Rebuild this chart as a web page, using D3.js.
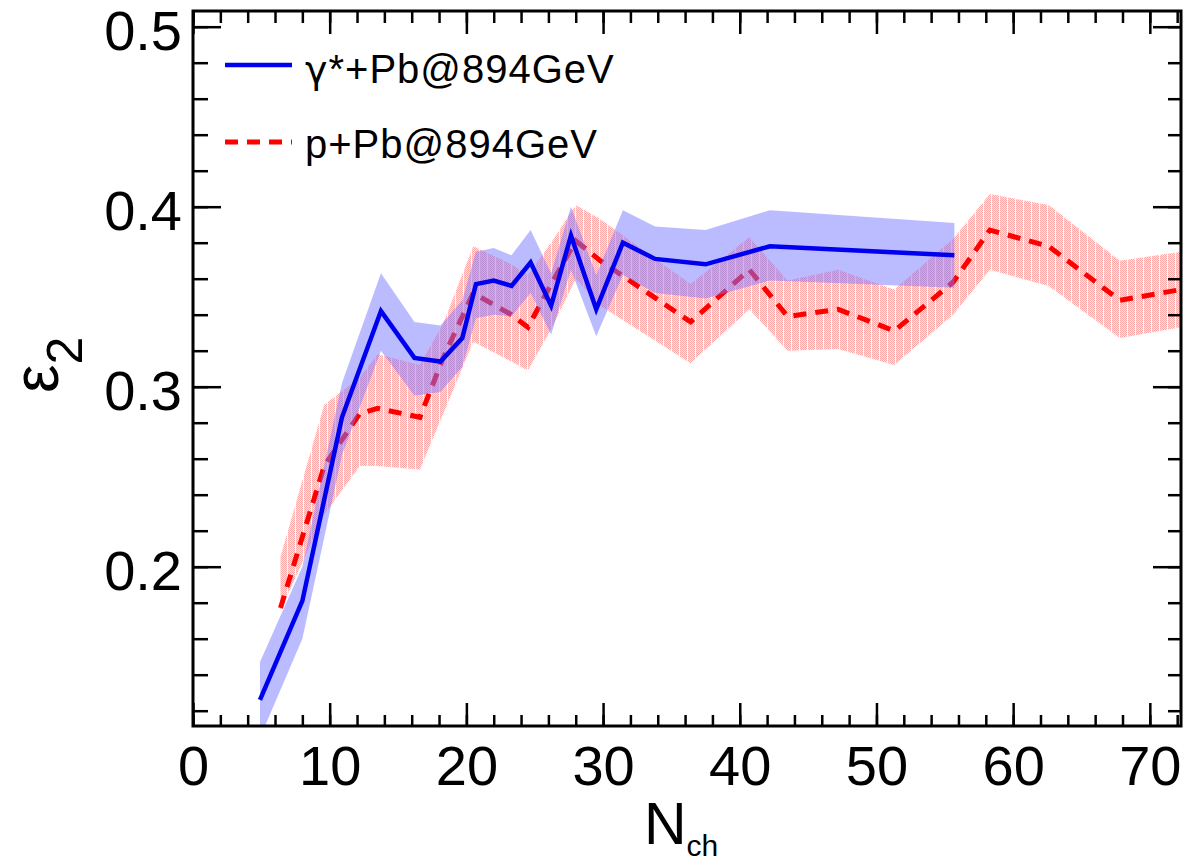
<!DOCTYPE html>
<html>
<head>
<meta charset="utf-8">
<script src="https://cdn.jsdelivr.net/npm/d3@7"></script>
<style>
  html, body { margin: 0; padding: 0; background: #fff; }
  svg { display: block; font-family: "Liberation Sans", Arial, Helvetica, sans-serif; }
</style>
</head>
<body>
<svg id="chart" width="1185" height="865"></svg>
<script>
// ---------------- data ----------------
const blueX  = [4.9, 8.0, 10.9, 13.75, 16.2, 18.1, 19.7, 20.7, 22.0, 23.3, 24.7, 26.2, 27.65, 29.5, 31.45, 33.8, 37.5, 42.2, 55.7];
const blueY  = [0.126, 0.181, 0.283, 0.342, 0.316, 0.314, 0.327, 0.357, 0.359, 0.356, 0.369, 0.345, 0.384, 0.343, 0.380, 0.371, 0.368, 0.378, 0.373];
const blueHi = [0.147, 0.200, 0.302, 0.363, 0.336, 0.334, 0.348, 0.375, 0.377, 0.373, 0.387, 0.363, 0.400, 0.362, 0.398, 0.389, 0.387, 0.398, 0.391];
const blueLo = [0.105, 0.160, 0.262, 0.320, 0.295, 0.297, 0.311, 0.338, 0.340, 0.339, 0.352, 0.329, 0.365, 0.328, 0.362, 0.352, 0.349, 0.359, 0.355];

const redX  = [6.4, 9.6, 12.2, 13.5, 16.6, 18.3, 20.5, 23.3, 24.5, 26.2, 28.0, 29.8, 36.4, 40.7, 43.5, 47.2, 51.3, 55.6, 58.3, 62.6, 67.8, 72.3];
const redY  = [0.177, 0.256, 0.285, 0.288, 0.283, 0.316, 0.352, 0.340, 0.333, 0.357, 0.381, 0.370, 0.336, 0.365, 0.339, 0.343, 0.331, 0.358, 0.387, 0.378, 0.348, 0.354];
const redHi = [0.2055, 0.290, 0.305, 0.318, 0.312, 0.335, 0.378, 0.368, 0.362, 0.380, 0.401, 0.393, 0.357, 0.383, 0.359, 0.365, 0.354, 0.382, 0.407, 0.401, 0.370, 0.375];
const redLo = [0.176, 0.229, 0.256, 0.256, 0.254, 0.285, 0.325, 0.314, 0.309, 0.332, 0.360, 0.345, 0.313, 0.343, 0.320, 0.321, 0.312, 0.340, 0.365, 0.356, 0.327, 0.333];

const xMajorTicks = [0, 10, 20, 30, 40, 50, 60, 70];
const xMinorTicks = d3.range(0, 73, 2);
const yMajorTicks = [0.2, 0.3, 0.4, 0.5];
const yMinorTicks = d3.range(12, 51, 2).map(v => v / 100);

const legendGreek = ["\u03B3", ""];
const legendLabels = ["*+Pb@894GeV", "p+Pb@894GeV"];

// ---------------- layout ----------------
const L = 193, R = 1181, T = 11, B = 726;
const x = d3.scaleLinear().domain([0, 72.28]).range([L, R]);
const y = d3.scaleLinear().domain([0.1115, 0.50872]).range([B, T]);

const svg = d3.select("#chart");
const defs = svg.append("defs");
defs.append("clipPath").attr("id", "plotclip")
  .append("rect").attr("x", L).attr("y", T).attr("width", R - L).attr("height", B - T);

// stipple pattern for red band
const pat = defs.append("pattern").attr("id", "redPat")
  .attr("patternUnits", "userSpaceOnUse").attr("width", 8).attr("height", 2);
pat.append("rect").attr("width", 8).attr("height", 2).attr("fill", "#ffffff");
for (let i = 0; i < 7; i++) {
  pat.append("rect").attr("x", i).attr("y", i % 2).attr("width", 1).attr("height", 1).attr("fill", "#ffa6a6");
  pat.append("rect").attr("x", i).attr("y", 1 - (i % 2)).attr("width", 1).attr("height", 1).attr("fill", "#ffe4e4");
}

const blue = blueX.map((v, i) => ({x: v, y: blueY[i], lo: blueLo[i], hi: blueHi[i]}));
const red  = redX.map((v, i) => ({x: v, y: redY[i], lo: redLo[i], hi: redHi[i]}));

const area = d3.area().x(d => x(d.x)).y0(d => y(d.lo)).y1(d => y(d.hi));
const line = d3.line().x(d => x(d.x)).y(d => y(d.y));

const plot = svg.append("g").attr("clip-path", "url(#plotclip)");
plot.append("path").datum(red).attr("d", area).attr("fill", "url(#redPat)");
plot.append("path").datum(red).attr("d", line).attr("fill", "none")
  .attr("stroke", "#ff0000").attr("stroke-width", 5).attr("stroke-dasharray", "13,9");
plot.append("path").datum(blue).attr("d", area).attr("fill", "rgb(120,120,255)").attr("fill-opacity", 0.5);
plot.append("path").datum(blue).attr("d", line).attr("fill", "none")
  .attr("stroke", "#0000f0").attr("stroke-width", 4.5).attr("stroke-linejoin", "miter");

// ---------------- axes ----------------
function styleAxis(g) {
  g.select(".domain").remove();
  g.selectAll(".tick line").attr("stroke", "#000").attr("stroke-width", 2.5);
}
// bottom
svg.append("g").attr("transform", `translate(0,${B})`)
  .call(d3.axisBottom(x).tickValues(xMinorTicks).tickSize(-11).tickFormat(""))
  .call(styleAxis);
svg.append("g").attr("transform", `translate(0,${B})`)
  .call(d3.axisBottom(x).tickValues(xMajorTicks).tickSize(-23).tickPadding(19).tickFormat(d3.format("d")))
  .call(styleAxis)
  .call(g => g.selectAll("text").attr("font-size", 56).attr("fill", "#000")
    .attr("font-family", "'Liberation Sans', Arial, sans-serif"));
// top
svg.append("g").attr("transform", `translate(0,${T})`)
  .call(d3.axisTop(x).tickValues(xMinorTicks).tickSize(-12).tickFormat(""))
  .call(styleAxis);
svg.append("g").attr("transform", `translate(0,${T})`)
  .call(d3.axisTop(x).tickValues(xMajorTicks).tickSize(-23).tickFormat(""))
  .call(styleAxis);
// left
svg.append("g").attr("transform", `translate(${L},0)`)
  .call(d3.axisLeft(y).tickValues(yMinorTicks).tickSize(-15).tickFormat(""))
  .call(styleAxis);
svg.append("g").attr("transform", `translate(${L},0)`)
  .call(d3.axisLeft(y).tickValues(yMajorTicks).tickSize(-28).tickPadding(11).tickFormat(d3.format(".1f")))
  .call(styleAxis)
  .call(g => g.selectAll("text").attr("font-size", 56).attr("fill", "#000").attr("dy", "0.41em")
    .attr("font-family", "'Liberation Sans', Arial, sans-serif"));
// right
svg.append("g").attr("transform", `translate(${R},0)`)
  .call(d3.axisRight(y).tickValues(yMinorTicks).tickSize(-13).tickFormat(""))
  .call(styleAxis);
svg.append("g").attr("transform", `translate(${R},0)`)
  .call(d3.axisRight(y).tickValues(yMajorTicks).tickSize(-28).tickFormat(""))
  .call(styleAxis);

// frame
svg.append("rect").attr("x", L).attr("y", T).attr("width", R - L).attr("height", B - T)
  .attr("fill", "none").attr("stroke", "#000").attr("stroke-width", 3);

// ---------------- axis titles ----------------
const xt = svg.append("text").attr("x", 644).attr("y", 844).attr("fill", "#000");
xt.append("tspan").attr("font-size", 59).text("N");
xt.append("tspan").attr("font-size", 30).attr("dy", 12).text("ch");

const yt = svg.append("text").attr("transform", "translate(58,393) rotate(-90)").attr("fill", "#000");
yt.append("tspan").attr("font-size", 64).text("\u03B5");
yt.append("tspan").attr("font-size", 50).attr("dy", 24).text("2");

// ---------------- legend ----------------
const leg = svg.append("g");
leg.append("line").attr("x1", 225).attr("x2", 292).attr("y1", 65).attr("y2", 65)
  .attr("stroke", "#0000f0").attr("stroke-width", 4.5);
const t1 = leg.append("text").attr("x", 305).attr("y", 83).attr("font-size", 40).attr("fill", "#000")
  .attr("letter-spacing", 1);
t1.append("tspan").attr("font-family", "'DejaVu Sans', sans-serif").attr("font-size", 38).text(legendGreek[0]);
t1.append("tspan").text(legendLabels[0]);
leg.append("line").attr("x1", 225).attr("x2", 292).attr("y1", 142).attr("y2", 142)
  .attr("stroke", "#ff0000").attr("stroke-width", 5).attr("stroke-dasharray", "13,9");
leg.append("text").attr("x", 305).attr("y", 158).attr("font-size", 40).attr("fill", "#000")
  .attr("letter-spacing", 1).text(legendGreek[1] + legendLabels[1]);
</script>
</body>
</html>
